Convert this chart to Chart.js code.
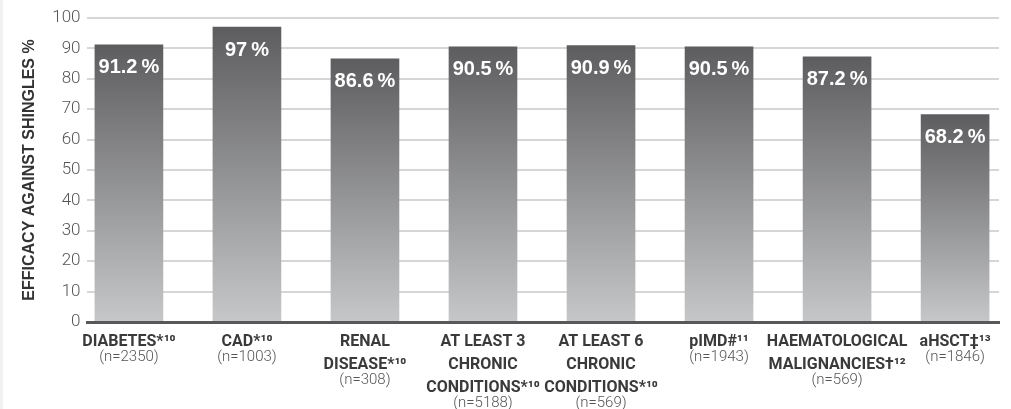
<!DOCTYPE html>
<html>
<head>
<meta charset="utf-8">
<script src="https://cdn.jsdelivr.net/npm/chart.js@4.4.1/dist/chart.umd.min.js"></script>
<style>
  html, body { margin: 0; padding: 0; background: #ffffff; }
  #wrap { position: relative; width: 1011px; height: 409px; }
  #wrap::before { content: ''; position: absolute; left: 0; top: 0; bottom: 0; width: 3px; background: #f1f1f1; }
</style>
</head>
<body>
<div id="wrap"><canvas id="c"></canvas></div>
<script>
// ---- data ----
const categories = [
  ['DIABETES*¹⁰'],
  ['CAD*¹⁰'],
  ['RENAL', 'DISEASE*¹⁰'],
  ['AT LEAST 3', 'CHRONIC', 'CONDITIONS*¹⁰'],
  ['AT LEAST 6', 'CHRONIC', 'CONDITIONS*¹⁰'],
  ['pIMD#¹¹'],
  ['HAEMATOLOGICAL', 'MALIGNANCIES†¹²'],
  ['aHSCT‡¹³']
];
const sampleSizes = ['(n=2350)', '(n=1003)', '(n=308)', '(n=5188)', '(n=569)', '(n=1943)', '(n=569)', '(n=1846)'];
const efficacy = [91.2, 97, 86.6, 90.5, 90.9, 90.5, 87.2, 68.2];
const yTicks = [0, 10, 20, 30, 40, 50, 60, 70, 80, 90, 100];
const yTitle = 'EFFICACY AGAINST SHINGLES %';

// ---- chart ----
Chart.defaults.font.family = "'Liberation Sans', 'Noto Sans', Arial, Helvetica, sans-serif";
const labelFamily = "Roboto, 'Liberation Sans', 'Noto Sans', sans-serif";

const xMin = -0.351, xMax = 7.372;
const catTicks = (s) => { s.ticks = categories.map((_, i) => ({ value: i })); };

const valueLabels = {
  id: 'valueLabels',
  afterDatasetsDraw(chart) {
    const ctx = chart.ctx;
    const meta = chart.getDatasetMeta(0);
    ctx.save();
    ctx.font = "bold 20px 'Liberation Sans', Arial, sans-serif";
    ctx.fillStyle = '#ffffff';
    ctx.textAlign = 'center';
    ctx.textBaseline = 'middle';
    meta.data.forEach((el, i) => {
      ctx.fillText(efficacy[i] + '\u2009%', el.x, el.y + 23);
    });
    ctx.restore();
  }
};

new Chart(document.getElementById('c'), {
  type: 'bar',
  data: {
    datasets: [{
      data: efficacy.map((v, i) => ({ x: i, y: v })),
      barThickness: 68,
      borderWidth: 0,
      backgroundColor: (c) => {
        const chart = c.chart;
        const ys = chart.scales.y;
        if (c.type !== 'data' || !ys || !chart.chartArea) return '#8a8a8c';
        const top = ys.getPixelForValue(efficacy[c.dataIndex]);
        const bot = ys.getPixelForValue(0);
        if (!isFinite(top) || !isFinite(bot) || top === bot) return '#8a8a8c';
        const g = chart.ctx.createLinearGradient(0, top, 0, bot);
        g.addColorStop(0, '#5d5d5f');
        g.addColorStop(1, '#c6c7c9');
        return g;
      }
    }]
  },
  options: {
    responsive: true,
    maintainAspectRatio: false,
    animation: false,
    layout: { padding: { left: 16, right: 12, top: 18, bottom: 2 } },
    plugins: { legend: { display: false }, tooltip: { enabled: false } },
    scales: {
      x: {
        type: 'linear',
        offset: false,
        bounds: 'data',
        min: xMin,
        max: xMax,
        afterBuildTicks: catTicks,
        grid: { display: false, drawTicks: false, offset: false },
        border: { display: true, color: '#58585a', width: 3, z: 1 },
        ticks: {
          autoSkip: false, maxRotation: 0, minRotation: 0, padding: 8,
          color: '#3a3a3a',
          font: { family: labelFamily, size: 16, weight: 'bold', lineHeight: 23 / 16 },
          callback: (v) => categories[v]
        }
      },
      xn: {
        type: 'linear',
        offset: false,
        position: { y: 0 },
        bounds: 'data',
        min: xMin,
        max: xMax,
        afterBuildTicks: catTicks,
        grid: { display: false, drawTicks: false, offset: false },
        border: { display: false },
        ticks: {
          autoSkip: false, maxRotation: 0, minRotation: 0, padding: 24,
          color: '#555555',
          font: { family: labelFamily, size: 15, weight: 300, lineHeight: 23 / 15 },
          callback: (v) => [...Array(categories[v].length - 1).fill(''), sampleSizes[v]]
        }
      },
      y: {
        min: 0,
        max: 100,
        afterBuildTicks: (s) => { s.ticks = yTicks.map(v => ({ value: v })); },
        grid: {
          color: (c) => (c.tick && c.tick.value === 0) ? 'rgba(0,0,0,0)' : '#d6d6d6',
          lineWidth: 2,
          drawTicks: false
        },
        border: { display: false },
        ticks: { padding: 7, color: '#555555', font: { family: labelFamily, size: 17, weight: 300 } },
        title: {
          display: true,
          text: yTitle,
          color: '#333333',
          font: { size: 16, weight: 'bold' },
          padding: { top: 4, bottom: 6 }
        }
      }
    }
  },
  plugins: [valueLabels]
});
</script>
</body>
</html>
